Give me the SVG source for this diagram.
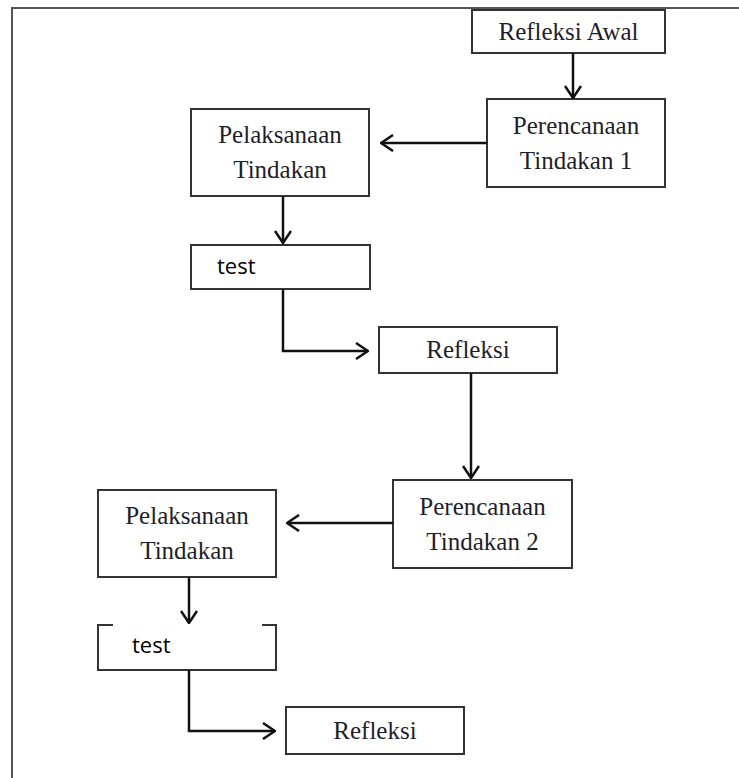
<svg xmlns="http://www.w3.org/2000/svg" width="739" height="778" viewBox="0 0 739 778">
<style>
.box{fill:#fff;stroke:#333;stroke-width:2}
.lbl{font-family:"Liberation Serif","Times New Roman",serif;font-size:25px;fill:#1e1e2a;text-anchor:middle}
.tst{font-family:"Open Sans","Liberation Sans",sans-serif;font-size:22px;fill:#000}
.con{fill:none;stroke:#111;stroke-width:2.5;marker-end:url(#ah)}
.frame{fill:none;stroke:#555;stroke-width:2}
</style>
<defs>
<marker id="ah" markerUnits="userSpaceOnUse" viewBox="0 0 14 18" refX="13" refY="9" markerWidth="14" markerHeight="18" orient="auto">
<path d="M1,1 L13,9 L1,17" fill="none" stroke="#111" stroke-width="2.5"/>
</marker>
</defs>
<rect width="739" height="778" fill="#fff"/>
<path class="frame" d="M12,778 V8 H739"/>
<g id="refleksi-awal"><rect class="box" x="472" y="10" width="193" height="43"/><text class="lbl" x="568.5" y="40">Refleksi Awal</text></g>
<g id="perencanaan-1"><rect class="box" x="487" y="99" width="178" height="88"/><text class="lbl" x="576" y="134">Perencanaan</text><text class="lbl" x="576" y="169">Tindakan 1</text></g>
<g id="pelaksanaan-1"><rect class="box" x="191" y="109" width="178" height="87"/><text class="lbl" x="280" y="143">Pelaksanaan</text><text class="lbl" x="280" y="178">Tindakan</text></g>
<g id="test-1"><rect class="box" x="191" y="245" width="179" height="44"/><text class="tst" x="217" y="274">test</text></g>
<g id="refleksi-1"><rect class="box" x="379" y="327" width="178" height="46"/><text class="lbl" x="468" y="358">Refleksi</text></g>
<g id="perencanaan-2"><rect class="box" x="393" y="480" width="179" height="88"/><text class="lbl" x="482.5" y="515">Perencanaan</text><text class="lbl" x="482.5" y="550">Tindakan 2</text></g>
<g id="pelaksanaan-2"><rect class="box" x="98" y="490" width="178" height="87"/><text class="lbl" x="187" y="524">Pelaksanaan</text><text class="lbl" x="187" y="559">Tindakan</text></g>
<g id="test-2"><rect class="box" x="98" y="625" width="178" height="45"/><rect x="113" y="623" width="149" height="4" fill="#fff"/><text class="tst" x="132" y="653">test</text></g>
<g id="refleksi-2"><rect class="box" x="286" y="707" width="178" height="47"/><text class="lbl" x="375" y="739">Refleksi</text></g>
<g id="connectors">
<path class="con" d="M573,53 V98"/>
<path class="con" d="M487,143 H381"/>
<path class="con" d="M283,196 V243"/>
<path class="con" d="M283,289 V351 H368"/>
<path class="con" d="M471,373 V478"/>
<path class="con" d="M393,523 H287"/>
<path class="con" d="M189,577 V623"/>
<path class="con" d="M189,670 V731 H275"/>
</g>
</svg>
